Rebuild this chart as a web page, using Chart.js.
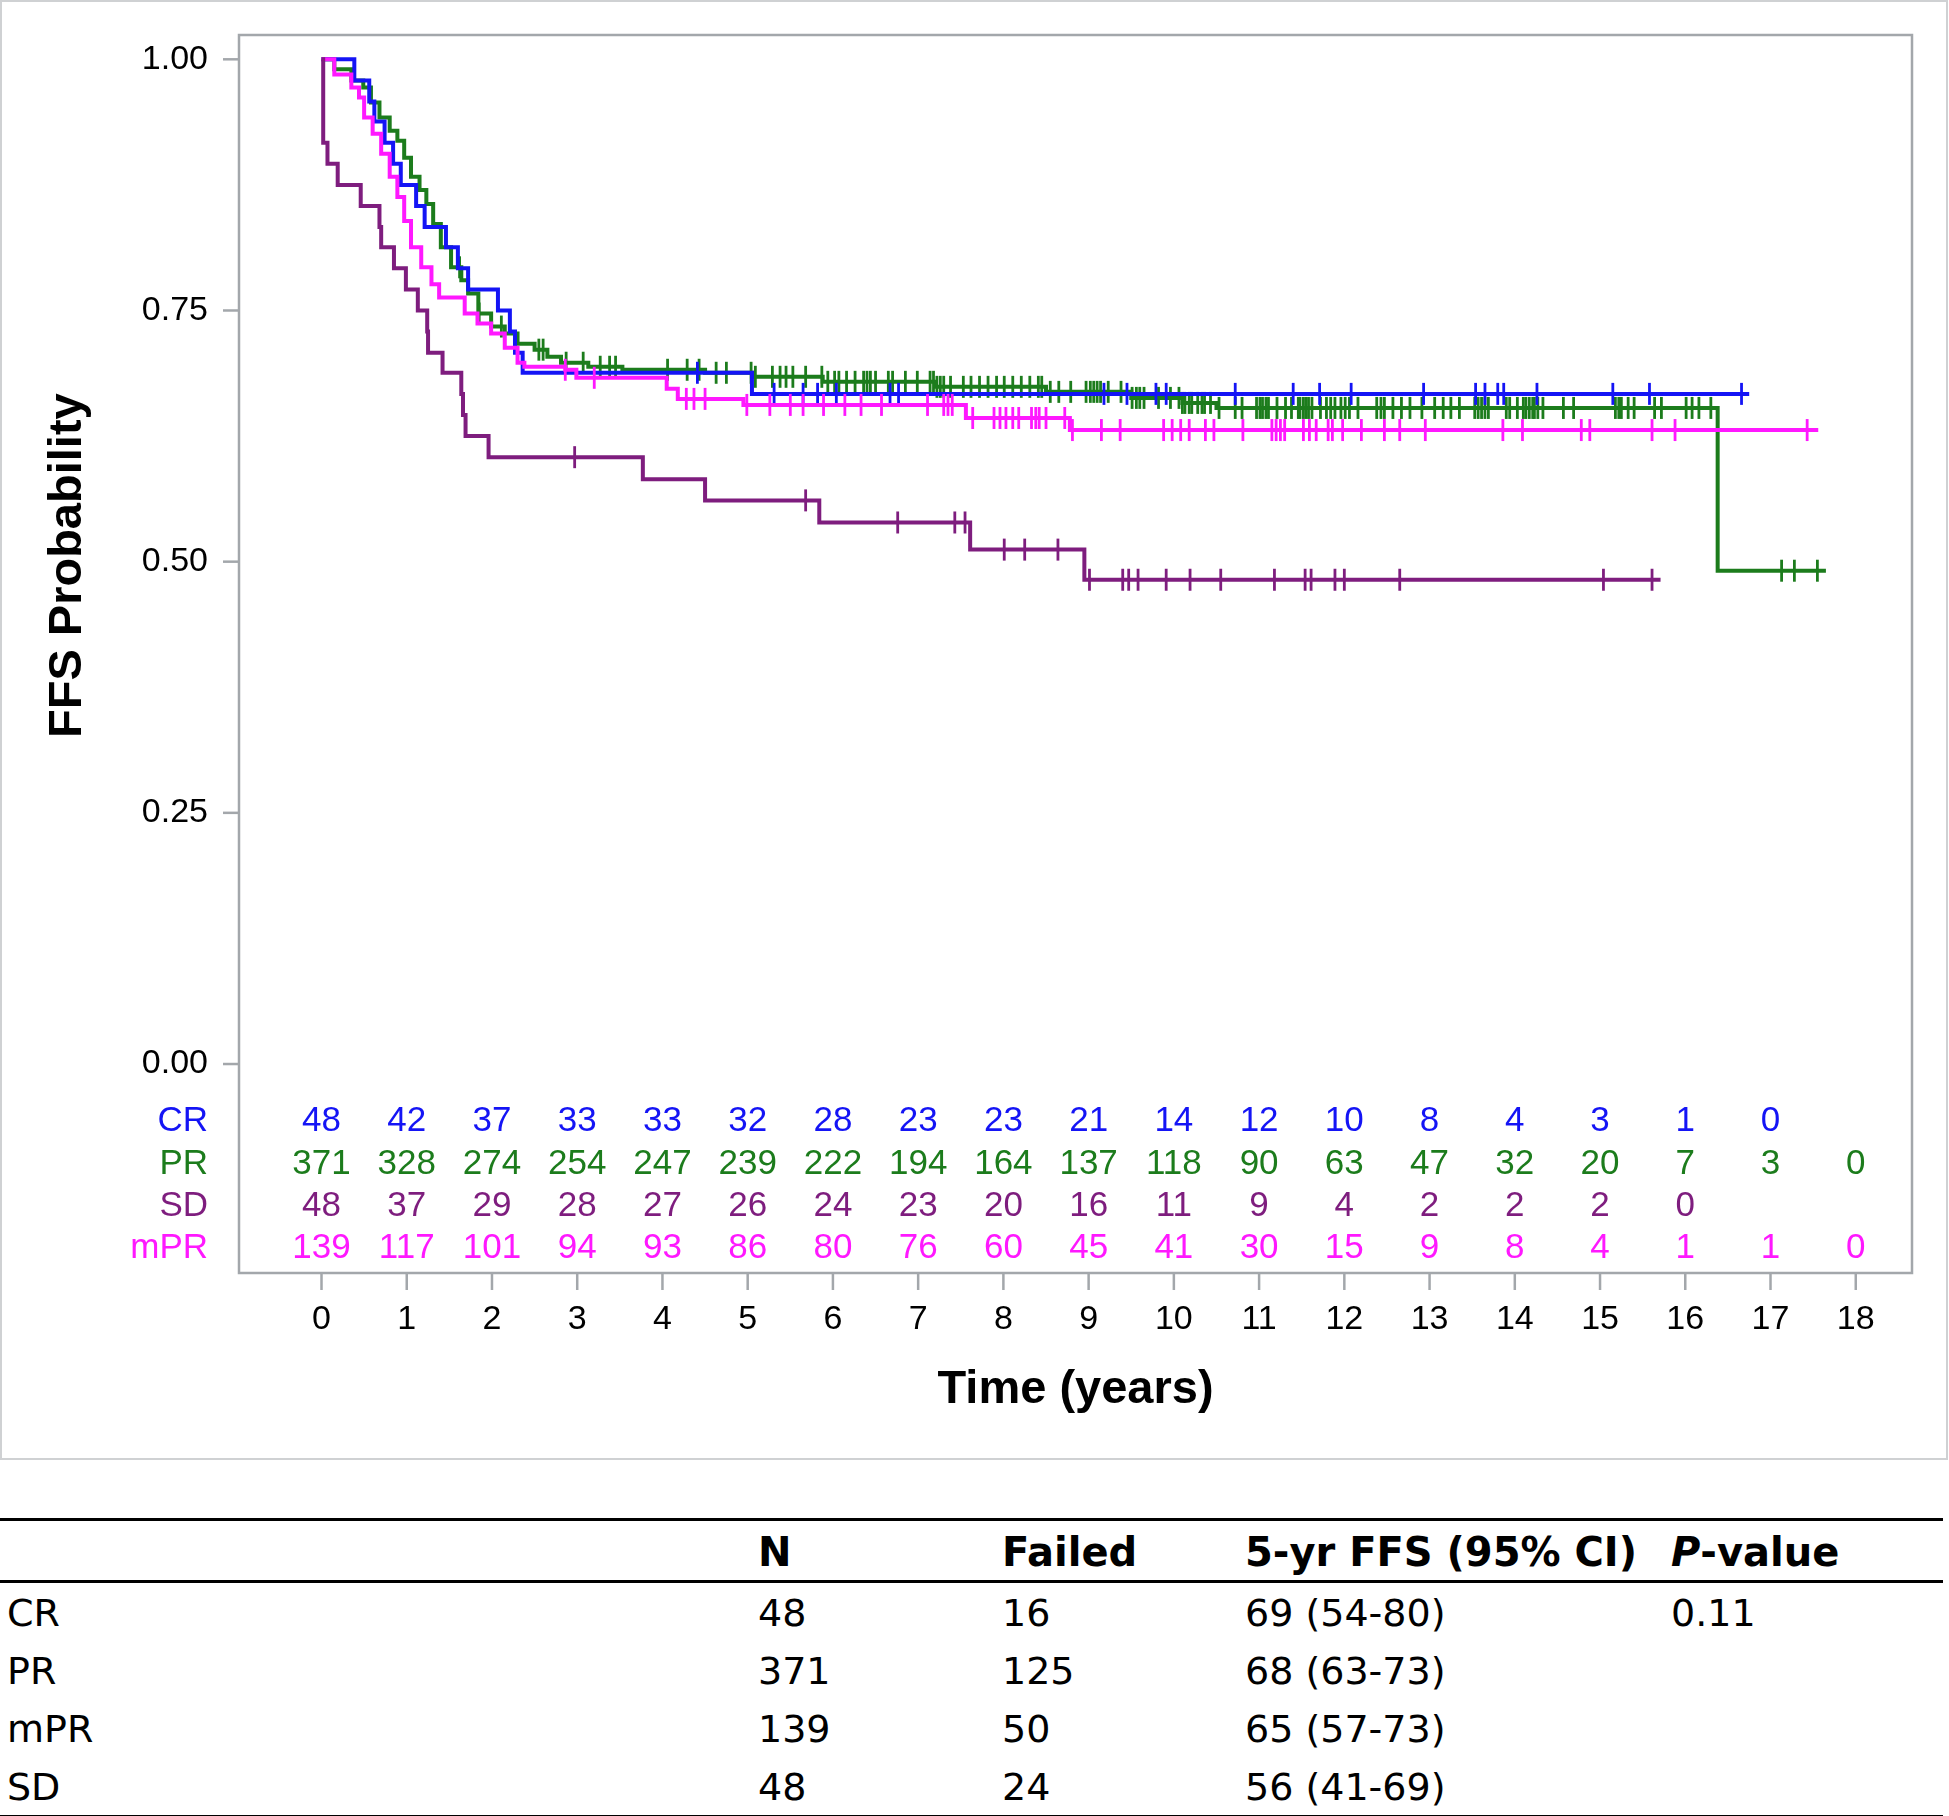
<!DOCTYPE html>
<html>
<head>
<meta charset="utf-8">
<script src="https://cdn.jsdelivr.net/npm/chart.js@4.4.1/dist/chart.umd.min.js"></script>
<style>
  html, body { margin: 0; padding: 0; background: #fff; }
  #wrap { position: relative; width: 1949px; height: 1816px; }
  #km { position: absolute; left: 0; top: 0; }
  table.summary {
    position: absolute; left: 0; top: 1518px; width: 1943px;
    border-collapse: collapse; font-family: "DejaVu Sans", Verdana, sans-serif;
    font-size: 38px; color: #000;
    border-top: 3px solid #000; border-bottom: 3px solid #000;
  }
  table.summary th, table.summary td {
    text-align: left; padding: 0; height: 58px; vertical-align: middle;
    white-space: nowrap;
  }
  table.summary th { font-weight: bold; font-size: 40px; border-bottom: 3px solid #000; height: 57px; padding-top: 2px; }
  table.summary td { padding-top: 2px; height: 56px; }
  table.summary .c0 { padding-left: 7px; }
</style>
</head>
<body>
<div id="wrap">
  <canvas id="km" width="1949" height="1462"></canvas>
  <table class="summary">
    <colgroup>
      <col style="width:758px"><col style="width:244px"><col style="width:243px"><col style="width:426px"><col style="width:272px">
    </colgroup>
    <thead>
      <tr><th class="c0"></th><th>N</th><th>Failed</th><th>5-yr FFS (95% CI)</th><th><i>P</i>-value</th></tr>
    </thead>
    <tbody id="summaryBody"></tbody>
  </table>
</div>
<script>
// Kaplan-Meier FFS per response group (time in years, survival probability)
const crTime = [0, 0.385, 0.56, 0.62, 0.74, 0.84, 0.93, 1.11, 1.21, 1.46, 1.60, 1.72, 2.07, 2.21, 2.27, 2.36, 5.05, 16.75];
const crSurv = [1, 0.979, 0.958, 0.938, 0.917, 0.896, 0.875, 0.854, 0.833, 0.813, 0.792, 0.771, 0.750, 0.729, 0.708, 0.688, 0.667, 0.667];
const crCensor = [4.41, 5.31, 5.65, 5.82, 6.04, 6.67, 6.77, 9.18, 9.45, 9.79, 9.91, 10.72, 11.40, 11.71, 12.08, 12.93,
  13.54, 13.65, 13.80, 13.87, 14.26, 15.15, 15.58, 16.66];

const prTime = [0, 0.15, 0.35, 0.49, 0.58, 0.68, 0.80, 0.89, 0.97, 1.05, 1.15, 1.23, 1.31, 1.40, 1.52, 1.64, 1.72, 1.84,
  1.99, 2.15, 2.30, 2.50, 2.65, 2.81, 3.13, 3.53, 4.50, 5.05, 5.88, 7.20, 8.50, 9.50, 10.10, 10.50, 16.38, 17.65];
const prSurv = [1, 0.990, 0.979, 0.972, 0.957, 0.942, 0.929, 0.919, 0.902, 0.883, 0.870, 0.856, 0.836, 0.813, 0.793, 0.780,
  0.767, 0.747, 0.734, 0.727, 0.717, 0.711, 0.704, 0.698, 0.694, 0.691, 0.688, 0.684, 0.679, 0.674, 0.669, 0.663, 0.658,
  0.653, 0.491, 0.491];
const prCensor = [1.62, 1.85, 2.11, 2.55, 2.60, 2.87, 3.07, 3.27, 3.38, 3.45, 4.06, 4.29, 4.43, 4.63, 4.75, 5.04, 5.09,
  5.29, 5.38, 5.45, 5.53, 5.68, 5.87, 5.94, 6.02, 6.07, 6.16, 6.26, 6.36, 6.40, 6.44, 6.50, 6.65, 6.70, 6.85, 6.99,
  7.14, 7.18, 7.22, 7.26, 7.30, 7.38, 7.53, 7.62, 7.72, 7.82, 7.92, 8.01, 8.11, 8.21, 8.31, 8.41, 8.45, 8.55, 8.65,
  8.79, 8.97, 9.02, 9.06, 9.10, 9.14, 9.23, 9.38, 9.51, 9.56, 9.60, 9.65, 9.82, 9.96, 10.06, 10.10, 10.13, 10.18,
  10.21, 10.28, 10.33, 10.36, 10.43, 10.53, 10.72, 10.80, 10.97, 11.01, 11.04, 11.08, 11.11, 11.21, 11.31, 11.38,
  11.46, 11.48, 11.52, 11.55, 11.58, 11.62, 11.72, 11.79, 11.84, 11.89, 11.96, 12.01, 12.06, 12.16, 12.38, 12.43,
  12.47, 12.57, 12.67, 12.77, 12.91, 13.06, 13.16, 13.25, 13.35, 13.53, 13.57, 13.61, 13.65, 13.69, 13.90, 13.94,
  14.03, 14.10, 14.13, 14.17, 14.21, 14.23, 14.27, 14.33, 14.57, 14.69, 15.18, 15.22, 15.25, 15.33, 15.40, 15.64,
  15.72, 16.01, 16.08, 16.16, 16.30, 17.13, 17.28, 17.55];

const sdTime = [0, 0.02, 0.07, 0.19, 0.46, 0.68, 0.70, 0.85, 0.99, 1.13, 1.24, 1.25, 1.42, 1.64, 1.66, 1.69, 1.96,
  3.77, 4.50, 5.84, 7.61, 8.95, 15.71];
const sdSurv = [1, 0.917, 0.896, 0.875, 0.854, 0.833, 0.813, 0.792, 0.771, 0.750, 0.729, 0.708, 0.688, 0.667, 0.646,
  0.625, 0.604, 0.582, 0.561, 0.539, 0.512, 0.482, 0.482];
const sdCensor = [2.97, 5.68, 6.76, 7.43, 7.55, 8.01, 8.25, 8.64, 9.01, 9.40, 9.47, 9.58, 9.91, 10.19, 10.55, 11.18,
  11.54, 11.61, 11.89, 12.00, 12.65, 15.04, 15.61];

const mprTime = [0, 0.15, 0.35, 0.44, 0.50, 0.60, 0.70, 0.80, 0.89, 0.97, 1.05, 1.17, 1.29, 1.38, 1.68, 1.83, 1.99,
  2.15, 2.30, 2.38, 2.86, 2.99, 4.05, 4.18, 4.95, 7.56, 8.78, 17.56];
const mprSurv = [1, 0.985, 0.972, 0.962, 0.942, 0.926, 0.906, 0.883, 0.863, 0.839, 0.813, 0.793, 0.776, 0.763, 0.747,
  0.737, 0.727, 0.713, 0.698, 0.694, 0.691, 0.683, 0.672, 0.662, 0.656, 0.643, 0.631, 0.631];
const mprCensor = [2.86, 3.20, 4.28, 4.37, 4.50, 4.99, 5.26, 5.50, 5.65, 5.89, 6.14, 6.33, 6.57, 7.11, 7.30, 7.35, 7.40,
  7.64, 7.89, 7.96, 8.03, 8.11, 8.18, 8.33, 8.38, 8.42, 8.50, 8.72, 8.81, 9.15, 9.37, 9.88, 9.98, 10.08, 10.18, 10.37,
  10.47, 10.81, 11.15, 11.20, 11.25, 11.30, 11.52, 11.59, 11.67, 11.81, 11.86, 11.98, 12.20, 12.47, 12.65, 12.95,
  13.86, 14.09, 14.78, 14.88, 15.61, 15.88, 17.43];

// numbers at risk
const riskYears = [0, 1, 2, 3, 4, 5, 6, 7, 8, 9, 10, 11, 12, 13, 14, 15, 16, 17, 18];
const crRisk = [48, 42, 37, 33, 33, 32, 28, 23, 23, 21, 14, 12, 10, 8, 4, 3, 1, 0];
const prRisk = [371, 328, 274, 254, 247, 239, 222, 194, 164, 137, 118, 90, 63, 47, 32, 20, 7, 3, 0];
const sdRisk = [48, 37, 29, 28, 27, 26, 24, 23, 20, 16, 11, 9, 4, 2, 2, 2, 0];
const mprRisk = [139, 117, 101, 94, 93, 86, 80, 76, 60, 45, 41, 30, 15, 9, 8, 4, 1, 1, 0];

const yTicks = [0, 0.25, 0.5, 0.75, 1];
const xTicks = [0, 1, 2, 3, 4, 5, 6, 7, 8, 9, 10, 11, 12, 13, 14, 15, 16, 17, 18];

// summary table
const groupNames = ["CR", "PR", "mPR", "SD"];
const groupN = [48, 371, 139, 48];
const groupFailed = [16, 125, 50, 24];
const groupFFS5 = ["69 (54-80)", "68 (63-73)", "65 (57-73)", "56 (41-69)"];
const pValue = "0.11";

const BLUE = "#1414f5";
const GREEN = "#1c7c1c";
const PURPLE = "#7e1d7e";
const MAGENTA = "#ff18ff";

function curve(times, surv) {
  return times.map((t, i) => ({ x: t, y: surv[i] }));
}
function survAt(times, surv, t) {
  let v = surv[0];
  for (let i = 0; i < times.length; i++) {
    if (times[i] <= t) v = surv[i];
  }
  return v;
}
function censorPoints(cens, times, surv) {
  return cens.map(t => ({ x: t, y: survAt(times, surv, t) }));
}

function lineSet(label, data, color) {
  return {
    label: label, data: data, borderColor: color, backgroundColor: color,
    borderWidth: 4, stepped: true, pointRadius: 0, tension: 0, fill: false
  };
}
function censorSet(label, data, color) {
  return {
    label: label, data: data, showLine: false, borderColor: color, backgroundColor: color,
    pointStyle: "line", rotation: 90, pointRadius: 11, pointBorderWidth: 2.8, pointHoverRadius: 11
  };
}

// draws the frame, axes, titles and number-at-risk rows
const decorations = {
  id: "decorations",
  afterDraw(chart) {
    const ctx = chart.ctx;
    const area = chart.chartArea;
    const xs = chart.scales.x;
    const ys = chart.scales.y;
    ctx.save();

    ctx.strokeStyle = "#cfd1d3";
    ctx.lineWidth = 2;
    ctx.strokeRect(1, 1, 1946, 1458);

    ctx.strokeStyle = "#a3a7ab";
    ctx.lineWidth = 2.5;
    ctx.strokeRect(area.left, area.top, area.right - area.left, area.bottom - area.top);

    ctx.fillStyle = "#000";
    ctx.font = "34px 'Liberation Sans', Arial, sans-serif";
    ctx.textAlign = "right";
    ctx.textBaseline = "middle";
    yTicks.forEach(v => {
      const y = ys.getPixelForValue(v);
      ctx.beginPath();
      ctx.moveTo(area.left - 16, y);
      ctx.lineTo(area.left, y);
      ctx.stroke();
      ctx.fillText(v.toFixed(2), area.left - 31, y);
    });

    ctx.textAlign = "center";
    xTicks.forEach(t => {
      const x = xs.getPixelForValue(t);
      ctx.beginPath();
      ctx.moveTo(x, area.bottom);
      ctx.lineTo(x, area.bottom + 17);
      ctx.stroke();
      ctx.fillText(String(t), x, area.bottom + 47);
    });

    // number at risk
    const rows = [
      ["CR", crRisk, BLUE, 1121],
      ["PR", prRisk, GREEN, 1164],
      ["SD", sdRisk, PURPLE, 1206],
      ["mPR", mprRisk, MAGENTA, 1248]
    ];
    ctx.font = "35px 'Liberation Sans', Arial, sans-serif";
    rows.forEach(([name, vals, color, y]) => {
      ctx.fillStyle = color;
      ctx.textAlign = "right";
      ctx.fillText(name, area.left - 31, y);
      ctx.textAlign = "center";
      vals.forEach((n, i) => ctx.fillText(String(n), xs.getPixelForValue(riskYears[i]), y));
    });

    ctx.fillStyle = "#000";
    ctx.font = "bold 47px 'Liberation Sans', Arial, sans-serif";
    ctx.textAlign = "center";
    ctx.textBaseline = "middle";
    ctx.fillText("Time (years)", (area.left + area.right) / 2, 1390);
    ctx.translate(68, (ys.getPixelForValue(0) + ys.getPixelForValue(1)) / 2 + 4);
    ctx.rotate(-Math.PI / 2);
    ctx.fillText("FFS Probability", 0, 0);
    ctx.restore();
  }
};

new Chart(document.getElementById("km"), {
  type: "line",
  data: {
    datasets: [
      lineSet("SD", curve(sdTime, sdSurv), PURPLE),
      censorSet("SD censored", censorPoints(sdCensor, sdTime, sdSurv), PURPLE),
      lineSet("mPR", curve(mprTime, mprSurv), MAGENTA),
      censorSet("mPR censored", censorPoints(mprCensor, mprTime, mprSurv), MAGENTA),
      lineSet("CR", curve(crTime, crSurv), BLUE),
      censorSet("CR censored", censorPoints(crCensor, crTime, crSurv), BLUE),
      lineSet("PR", curve(prTime, prSurv), GREEN),
      censorSet("PR censored", censorPoints(prCensor, prTime, prSurv), GREEN)
    ]
  },
  options: {
    responsive: false,
    devicePixelRatio: 1,
    animation: false,
    layout: { padding: { left: 239, top: 35, right: 37, bottom: 189 } },
    scales: {
      x: { type: "linear", min: -0.968, max: 18.66, display: false },
      y: { type: "linear", min: -0.208, max: 1.0242, display: false }
    },
    plugins: { legend: { display: false }, tooltip: { enabled: false } }
  },
  plugins: [decorations]
});

const body = document.getElementById("summaryBody");
groupNames.forEach((g, i) => {
  const tr = document.createElement("tr");
  const cells = [g, groupN[i], groupFailed[i], groupFFS5[i], i === 0 ? pValue : ""];
  cells.forEach((c, j) => {
    const td = document.createElement("td");
    if (j === 0) td.className = "c0";
    td.textContent = c;
    tr.appendChild(td);
  });
  body.appendChild(tr);
});
</script>
</body>
</html>
